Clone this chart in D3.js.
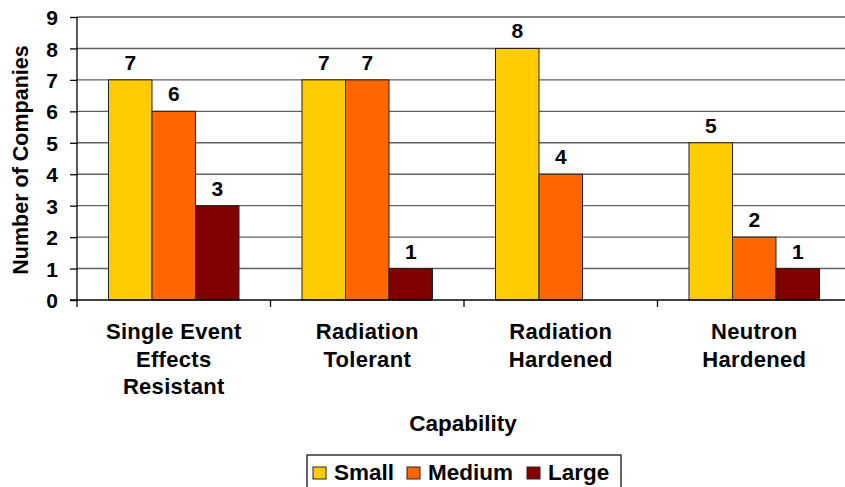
<!DOCTYPE html>
<html><head><meta charset="utf-8">
<script src="https://cdn.jsdelivr.net/npm/d3@7"></script>
<style>
html,body{margin:0;padding:0;background:#fff;overflow:hidden}
text{font-family:"Liberation Sans",Arial,sans-serif;font-weight:bold;fill:#000}
</style></head>
<body><svg id="c" width="845" height="487"></svg>
<script>
const categories = [["Single Event","Effects","Resistant"],["Radiation","Tolerant"],["Radiation","Hardened"],["Neutron","Hardened"]];
const seriesNames = ["Small","Medium","Large"];
const small = [7,7,8,5];
const medium = [6,7,4,2];
const large = [3,1,0,1];
const yTicks = [0,1,2,3,4,5,6,7,8,9];
const colors = ["#FFCC00","#FF6600","#800000"];

(function(){
const svg = d3.select("#c");
const values = [small, medium, large];
const catKeys = categories.map((c,i)=>i);
const pLeft = 77, pBottom = 300, pTop = 17;
const x0 = d3.scaleBand().domain(catKeys).range([pLeft, pLeft + 4*193.5]).paddingInner(0).paddingOuter(0);
const x1 = d3.scaleBand().domain(seriesNames).range([0, x0.bandwidth()]).paddingInner(0).paddingOuter(0.724);
const y = d3.scaleLinear().domain([0,9]).range([pBottom, pTop]);

// gridlines
svg.append("g").selectAll("line").data(yTicks.filter(d=>d>0)).join("line")
  .attr("x1", pLeft).attr("x2", 845).attr("y1", d=>y(d)).attr("y2", d=>y(d))
  .attr("stroke", "#606060").attr("stroke-width", 1.4);

// bars
const groups = svg.append("g").selectAll("g").data(catKeys).join("g")
  .attr("transform", d=>`translate(${x0(d)},0)`);
const rowData = ci=>seriesNames.map((s,si)=>({s, si, v: values[si][ci]})).filter(d=>d.v>0);
groups.selectAll("rect").data(rowData).join("rect")
  .attr("x", d=>x1(d.s)).attr("width", x1.bandwidth())
  .attr("y", d=>y(d.v)).attr("height", d=>y(0)-y(d.v))
  .attr("fill", d=>colors[d.si]).attr("stroke", "#222").attr("stroke-width", 1);
groups.selectAll("text.val").data(rowData).join("text")
  .attr("class","val")
  .attr("x", d=>x1(d.s)+x1.bandwidth()/2).attr("y", d=>y(d.v)-10)
  .attr("text-anchor","middle").style("font-size","21px").text(d=>d.v);

// y axis
const yAxis = svg.append("g").attr("transform",`translate(${pLeft},0)`)
  .call(d3.axisLeft(y).tickValues(yTicks).tickSize(7).tickPadding(12).tickFormat(d3.format("d")));
yAxis.attr("font-family",null).attr("font-size",null);
yAxis.select(".domain").attr("stroke","#000").attr("stroke-width",1.3).attr("d",`M0,${pTop}V${pBottom}`);
yAxis.selectAll(".tick line").attr("stroke","#000").attr("stroke-width",1.3);
yAxis.selectAll(".tick text").style("font-size","21px").attr("dy","0.36em");

// x axis
const xTickPos = catKeys.map(k=>x0(k)).concat([pLeft+4*193.5]);
svg.append("line").attr("x1",pLeft-7).attr("x2",845).attr("y1",pBottom).attr("y2",pBottom)
  .attr("stroke","#000").attr("stroke-width",1.3);
svg.append("g").selectAll("line").data(xTickPos).join("line")
  .attr("x1",d=>d).attr("x2",d=>d).attr("y1",pBottom).attr("y2",pBottom+7)
  .attr("stroke","#000").attr("stroke-width",1.3);
const catLabels = svg.append("g").selectAll("text").data(catKeys).join("text")
  .attr("text-anchor","middle").style("font-size","22px").style("letter-spacing","0.3px")
  .attr("transform", d=>`translate(${x0(d)+x0.bandwidth()/2},339)`);
catLabels.selectAll("tspan").data(d=>categories[d]).join("tspan")
  .attr("x",0).attr("dy",(d,i)=>i===0?0:27.5).text(d=>d);

// axis titles
svg.append("text").attr("x",463).attr("y",431).attr("text-anchor","middle").style("font-size","22.5px").text("Capability");
svg.append("text").attr("transform","translate(28,160) rotate(-90)").attr("text-anchor","middle").style("font-size","21.5px").text("Number of Companies");

// legend
const lg = svg.append("g");
lg.append("rect").attr("x",307).attr("y",455).attr("width",314).attr("height",40).attr("fill","#fff").attr("stroke","#000").attr("stroke-width",1.2);
const legX = [313, 407, 527];
seriesNames.forEach((s,i)=>{
  lg.append("rect").attr("x",legX[i]).attr("y",467).attr("width",13).attr("height",12)
    .attr("fill",colors[i]).attr("stroke","#222").attr("stroke-width",1);
  lg.append("text").attr("x",legX[i]+21).attr("y",480).style("font-size","22.5px").text(s);
});
})();
</script></body></html>
